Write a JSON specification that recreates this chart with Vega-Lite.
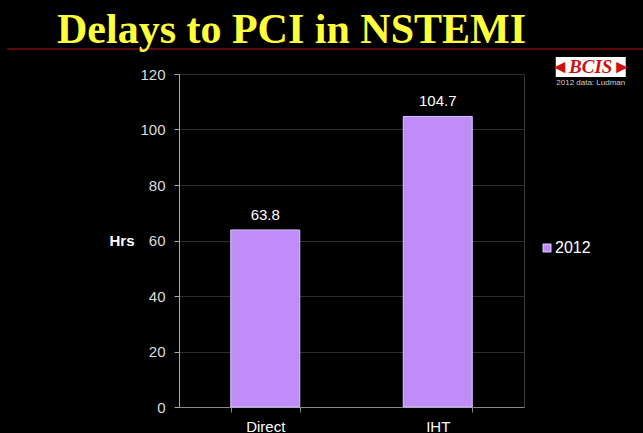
{
  "$schema": "https://vega.github.io/schema/vega-lite/v6.json",
  "width": 345,
  "height": 333,
  "autosize": {"type": "none"},
  "padding": {"left": 179, "top": 74, "right": 119, "bottom": 26},
  "background": "#000000",
  "config": {"view": {"stroke": "#3a3a3a"}, "font": "Liberation Sans"},
  "title": {
    "text": "Delays to PCI in NSTEMI",
    "font": "Liberation Serif",
    "fontSize": 42,
    "fontWeight": "bold",
    "color": "#ffff3b",
    "anchor": "middle",
    "dx": -60,
    "dy": 4,
    "offset": 0
  },
  "datasets": {
    "bars": [
      {"route": "Direct", "hrs": 63.8, "year": "2012"},
      {"route": "IHT", "hrs": 104.7, "year": "2012"}
    ],
    "logo": [{"t": "BCIS"}],
    "credit": [{"t": "2012 data: Ludman"}]
  },
  "layer": [
    {
      "data": {"name": "bars"},
      "mark": {"type": "bar", "stroke": "#dcc4ff", "strokeWidth": 1},
      "encoding": {
        "x": {
          "field": "route",
          "type": "nominal",
          "sort": null,
          "scale": {"paddingInner": 0.6, "paddingOuter": 0.3},
          "axis": {
            "title": null,
            "labelAngle": 0,
            "labelAlign": "center",
            "labelColor": "#ffffff",
            "labelFontSize": 15,
            "labelPadding": 7,
            "tickBand": "extent",
            "tickColor": "#888888",
            "tickSize": 5,
            "domainColor": "#888888",
            "grid": false
          }
        },
        "y": {
          "field": "hrs",
          "type": "quantitative",
          "scale": {"domain": [0, 120]},
          "axis": {
            "title": "Hrs",
            "titleAngle": 0,
            "titleColor": "#ffffff",
            "titleFontSize": 15,
            "titleFontWeight": "bold",
            "titleX": -45,
            "titleY": 166.5,
            "titleAlign": "right",
            "titleBaseline": "middle",
            "values": [0, 20, 40, 60, 80, 100, 120],
            "labelColor": "#dddddd",
            "labelFontSize": 15,
            "labelPadding": 9,
            "tickColor": "#aaaaaa",
            "tickSize": 5,
            "domainColor": "#aaaaaa",
            "gridColor": "#2e2e2e",
            "grid": true
          }
        },
        "color": {
          "field": "year",
          "type": "nominal",
          "scale": {"range": ["#c08cf7"]},
          "legend": {
            "orient": "none",
            "legendX": 360,
            "legendY": 166,
            "title": null,
            "labelColor": "#ffffff",
            "labelFontSize": 16,
            "labelFont": "Liberation Sans",
            "labelOffset": 0,
            "symbolType": "square",
            "symbolSize": 64,
            "symbolStrokeColor": "#e0ccff",
            "symbolStrokeWidth": 1
          }
        }
      }
    },
    {
      "data": {"name": "bars"},
      "mark": {"type": "text", "color": "#ffffff", "fontSize": 15, "baseline": "middle", "dy": -15},
      "encoding": {
        "x": {"field": "route", "type": "nominal", "sort": null},
        "y": {"field": "hrs", "type": "quantitative"},
        "text": {"field": "hrs", "type": "quantitative", "format": ".1f"}
      }
    },
    {
      "data": {"name": "logo"},
      "mark": {
        "type": "point",
        "shape": "M-1,-0.2857L1,-0.2857L1,0.2857L-1,0.2857Z",
        "size": 4900,
        "filled": true,
        "color": "#ffffff",
        "opacity": 1,
        "xOffset": 153,
        "clip": false
      },
      "encoding": {
        "x": {"datum": "IHT", "type": "nominal"},
        "y": {"datum": 122.5, "type": "quantitative"}
      }
    },
    {
      "data": {"name": "logo"},
      "mark": {
        "type": "text",
        "text": "◄BCIS►",
        "font": "Liberation Serif",
        "fontStyle": "italic",
        "fontWeight": "bold",
        "fontSize": 19,
        "color": "#cc1111",
        "baseline": "middle",
        "xOffset": 153,
        "clip": false
      },
      "encoding": {
        "x": {"datum": "IHT", "type": "nominal"},
        "y": {"datum": 122.5, "type": "quantitative"}
      }
    },
    {
      "data": {"name": "credit"},
      "mark": {
        "type": "text",
        "font": "Liberation Sans",
        "fontSize": 8,
        "color": "#d0d0d0",
        "baseline": "middle",
        "xOffset": 153,
        "clip": false
      },
      "encoding": {
        "x": {"datum": "IHT", "type": "nominal"},
        "y": {"datum": 116.8, "type": "quantitative"},
        "text": {"field": "t", "type": "nominal"}
      }
    },
    {
      "data": {"name": "logo"},
      "mark": {
        "type": "rule",
        "color": "#7a0c0c",
        "strokeWidth": 1.5,
        "xOffset": -258,
        "x2Offset": 205,
        "clip": false
      },
      "encoding": {
        "x": {"datum": "Direct", "type": "nominal"},
        "x2": {"datum": "IHT"},
        "y": {"datum": 129, "type": "quantitative"}
      }
    }
  ]
}
